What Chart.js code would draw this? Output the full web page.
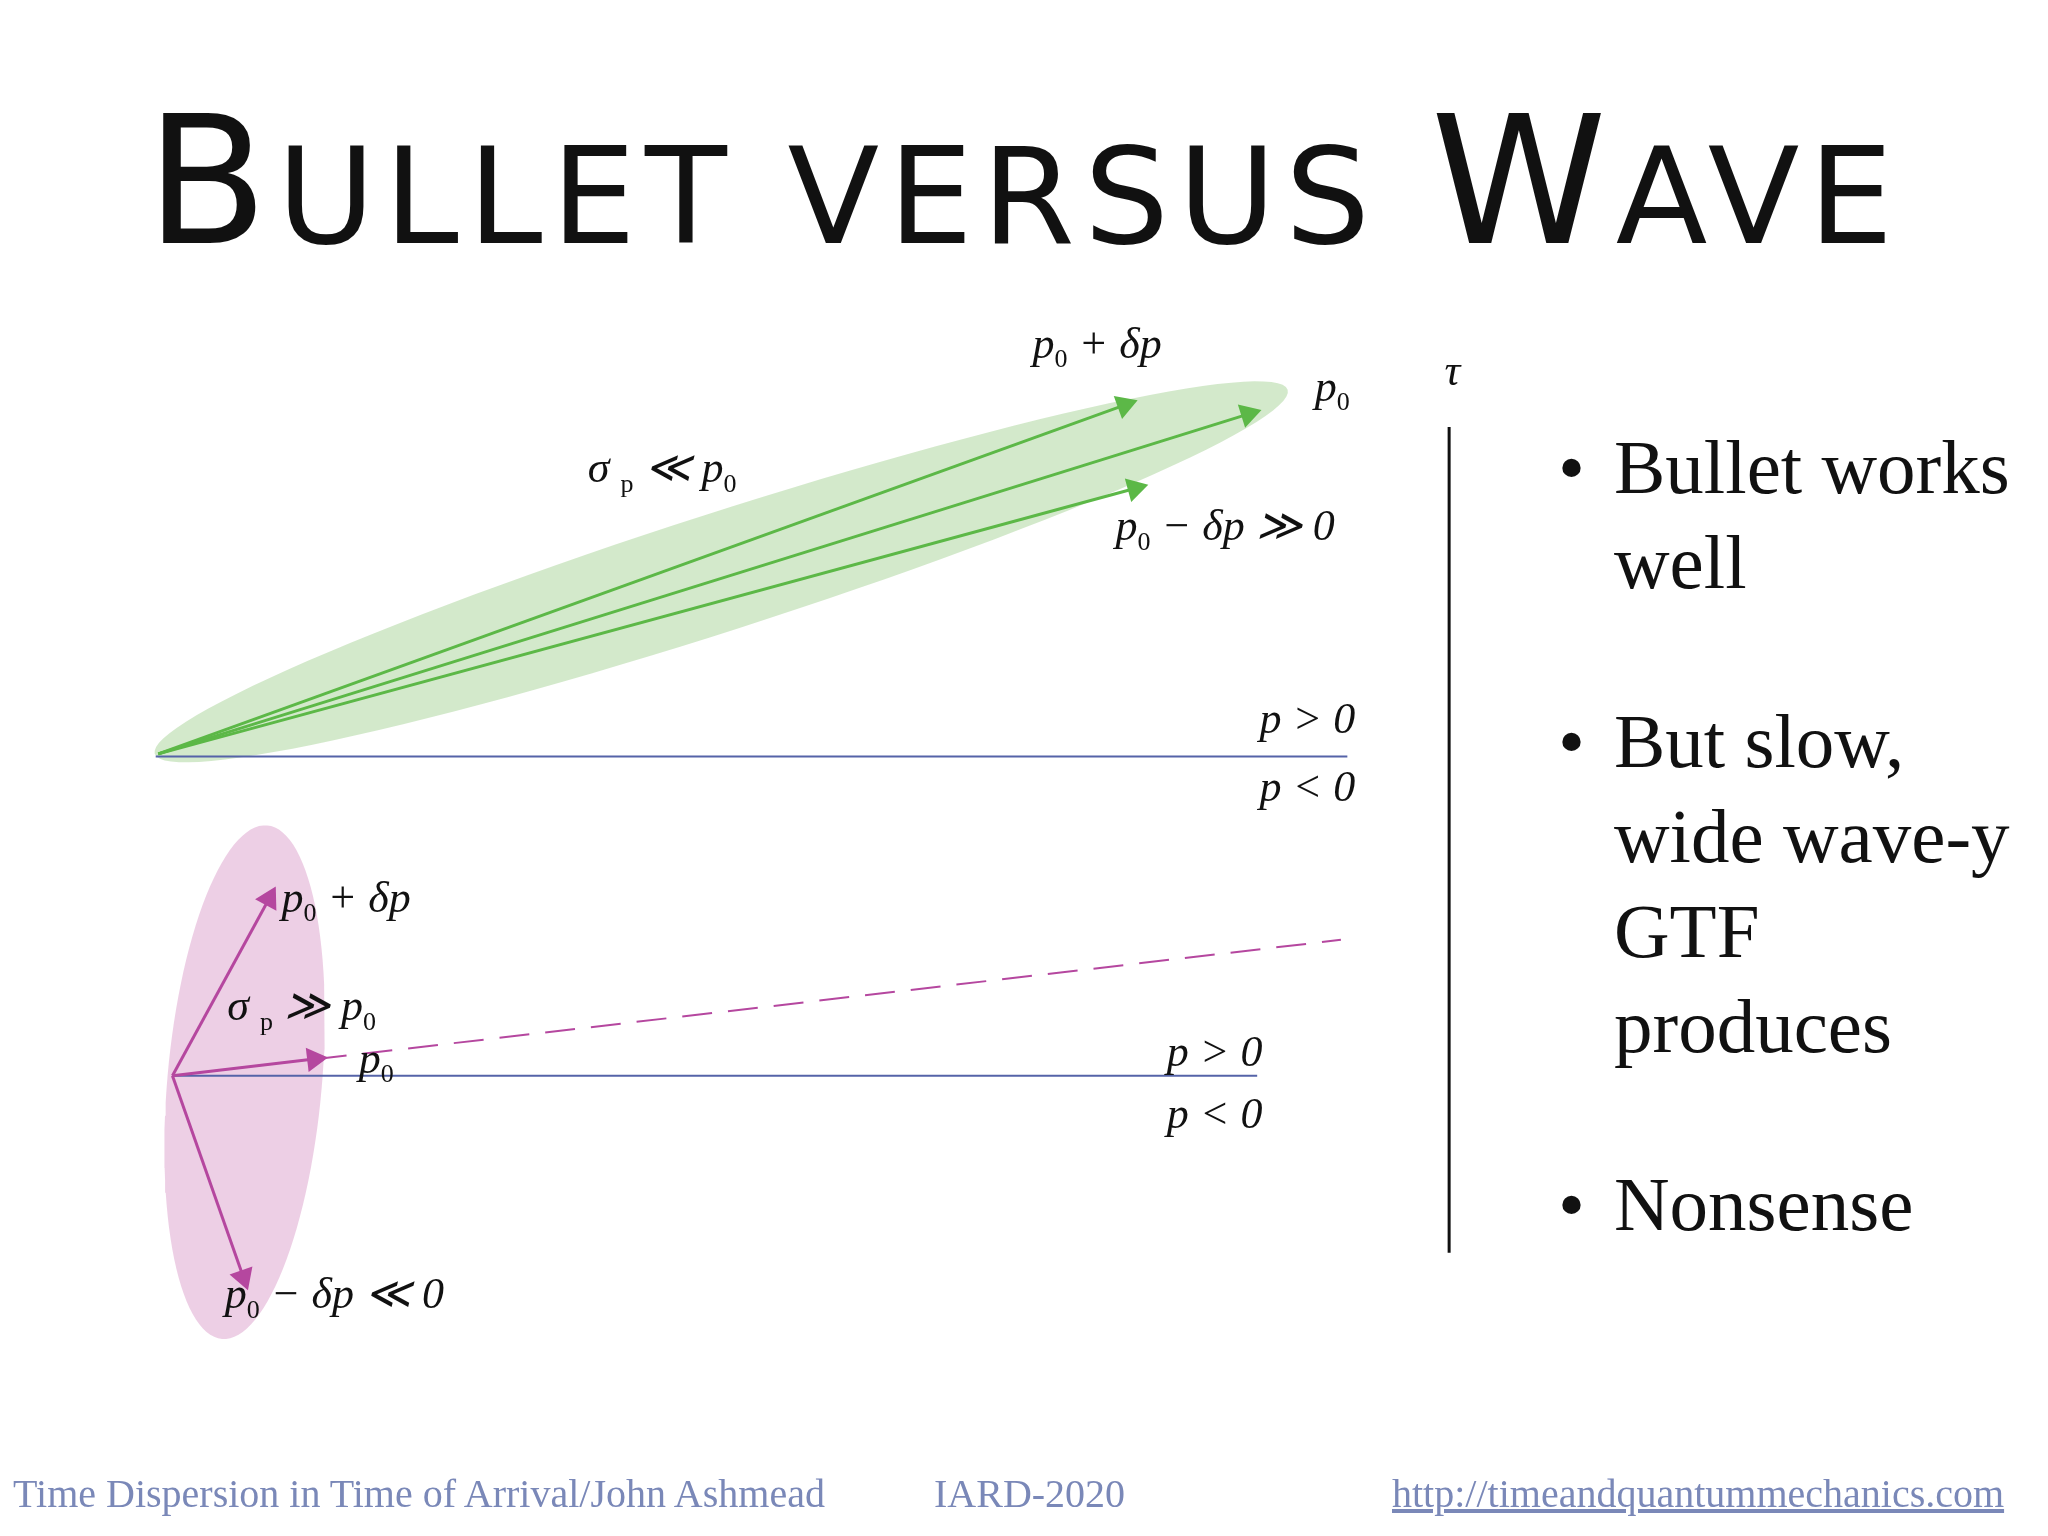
<!DOCTYPE html>
<html><head><meta charset="utf-8">
<script src="https://cdn.jsdelivr.net/npm/chart.js@4"></script>
<style>
body{margin:0;background:#fff;width:2048px;height:1536px;overflow:hidden;position:relative;font-family:"Liberation Serif",serif}
#c{position:absolute;left:0;top:0}
.lbl{position:absolute;transform:translate(-50%,-50%);font-style:italic;font-size:44px;white-space:nowrap;color:#111}
.lbl sub{font-size:26px;font-style:normal}
#title{position:absolute;top:78px;width:2048px;text-align:center;font-family:"DejaVu Sans",sans-serif;color:#111;letter-spacing:9px;white-space:nowrap}
.big{font-size:178px}.sm{font-size:134px}
.bul{position:absolute;left:1558px;font-size:77px;line-height:95px;color:#111}
.bul b{position:absolute;left:0;font-weight:normal}
.bul div{margin-left:56px}
.foot{position:absolute;top:1470px;font-size:40px;color:#7a88b8}
</style></head><body>
<canvas id="c" width="2048" height="1536"></canvas>
<div id="title"><span class="big">B</span><span class="sm">ULLET VERSUS </span><span class="big">W</span><span class="sm">AVE</span></div>
<div class="bul" style="top:420px"><b>•</b><div>Bullet works<br>well</div></div>
<div class="bul" style="top:694px"><b>•</b><div>But slow,<br>wide wave-y<br>GTF<br>produces</div></div>
<div class="bul" style="top:1157px"><b>•</b><div>Nonsense</div></div>
<div class="foot" style="left:13px">Time Dispersion in Time of Arrival/John Ashmead</div>
<div class="foot" style="left:934px">IARD-2020</div>
<div class="foot" style="left:1392px;text-decoration:underline">http://timeandquantummechanics.com</div>
<script>
// slide coordinates (1568 x 1176 reference space)
const S = 2048 / 1568;
const greenOrigin = [112, 577];
const greenTips = [[862, 305], [958, 312], [870, 370]];
const pinkOrigin = [123, 828];
const pinkTips = [[198, 690], [233, 815], [178, 985]];
const dashedLine = [[235, 815], [1030, 722]];
const axisTop = [[110, 579], [1035, 579]];
const axisBottom = [[123, 828], [965, 828]];
const tauLine = [[1114, 322], [1114, 966]];
// ellipses: center x, center y, semi-major, semi-minor, angle (deg)
const greenEllipse = [549, 435, 462, 46, -17.9];
const pinkEllipse = [179, 833, 201, 60, 95];
const labels = [
  ['<i>p</i><sub>0</sub> + δ<i>p</i>', 840, 265], ['<i>p</i><sub>0</sub>', 1020, 298],
  ['σ <sub>p</sub> ≪ p<sub>0</sub>', 507, 360], ['<i>p</i><sub>0</sub> − δ<i>p</i> ≫ 0', 938, 404],
  ['<i>p</i> &gt; 0', 1001, 550], ['<i>p</i> &lt; 0', 1001, 602],
  ['<i>p</i><sub>0</sub> + δ<i>p</i>', 265, 689], ['σ <sub>p</sub> ≫ p<sub>0</sub>', 231, 772],
  ['<i>p</i><sub>0</sub>', 288, 812], ['<i>p</i> &gt; 0', 930, 805], ['<i>p</i> &lt; 0', 930, 852],
  ['<i>p</i><sub>0</sub> − δ<i>p</i> ≪ 0', 256, 992], ['τ', 1112, 283]
];

labels.forEach(([t, x, y]) => {
  const d = document.createElement('div');
  d.className = 'lbl';
  d.innerHTML = t;
  d.style.left = (x * S) + 'px';
  d.style.top = (y * S) + 'px';
  document.body.appendChild(d);
});

function ellipse(e) {
  const [cx, cy, a, b, ang] = e;
  const r = ang * Math.PI / 180, pts = [];
  for (let i = 0; i <= 120; i++) {
    const t = i / 120 * 2 * Math.PI;
    const x = a * Math.cos(t), y = b * Math.sin(t);
    pts.push({x: cx + x * Math.cos(r) - y * Math.sin(r), y: cy + x * Math.sin(r) + y * Math.cos(r)});
  }
  return pts;
}
function arrow(o, tip, color) {
  const rot = Math.atan2(tip[0] - o[0], -(tip[1] - o[1])) * 180 / Math.PI;
  return {data: [{x: o[0], y: o[1]}, {x: tip[0], y: tip[1]}], borderColor: color, borderWidth: 3,
    showLine: true, pointStyle: 'triangle', pointRotation: [0, rot], pointRadius: [0, 14],
    backgroundColor: color, pointBorderWidth: 0, order: 1};
}
function seg(p, color, w, dash) {
  return {data: p.map(q => ({x: q[0], y: q[1]})), borderColor: color, borderWidth: w,
    borderDash: dash || [], showLine: true, pointRadius: 0, order: 2};
}
const green = '#5cb847', pink = '#b5479f', blue = '#5563a8';
const datasets = [
  {data: ellipse(greenEllipse), showLine: true, fill: 'shape', backgroundColor: 'rgba(200,228,190,0.8)',
    borderColor: 'rgba(0,0,0,0)', borderWidth: 0, pointRadius: 0, order: 10},
  {data: ellipse(pinkEllipse), showLine: true, fill: 'shape', backgroundColor: 'rgba(236,204,228,0.95)',
    borderColor: 'rgba(0,0,0,0)', borderWidth: 0, pointRadius: 0, order: 10},
  seg(axisTop, blue, 2), seg(axisBottom, blue, 2), seg(tauLine, '#111', 3),
  seg(dashedLine, pink, 2, [30, 16]),
  ...greenTips.map(t => arrow(greenOrigin, t, green)),
  ...pinkTips.map(t => arrow(pinkOrigin, t, pink))
];
new Chart(document.getElementById('c'), {
  type: 'scatter',
  data: {datasets},
  options: {
    responsive: false, animation: false,
    layout: {padding: 0},
    plugins: {legend: {display: false}, tooltip: {enabled: false}, filler: {drawTime: 'beforeDatasetsDraw'}},
    elements: {line: {tension: 0}},
    scales: {
      x: {type: 'linear', min: 0, max: 1568, display: false},
      y: {type: 'linear', min: 0, max: 1176, reverse: true, display: false}
    }
  }
});
</script>
</body></html>
